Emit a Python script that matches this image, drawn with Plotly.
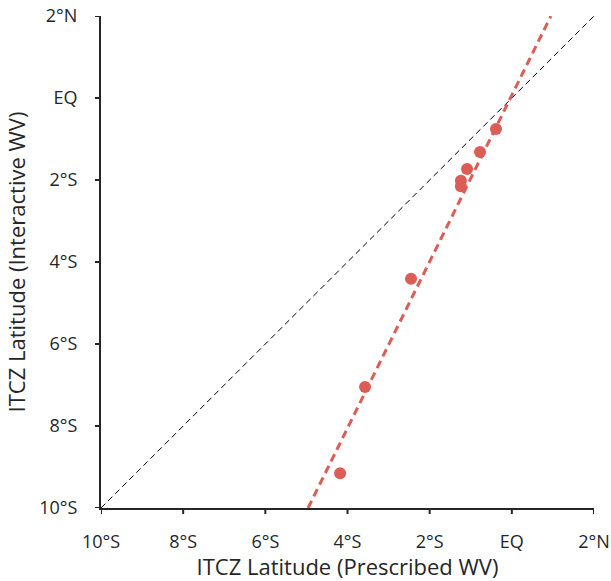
import numpy as np
import plotly.graph_objects as go

# Data
prescribed = [-0.385, -0.774, -1.09, -1.24, -1.24, -2.454, -3.573, -4.18]
interactive = [-0.756, -1.317, -1.73, -2.02, -2.15, -4.41, -7.05, -9.15]
fit_slope = 2.03
fit_intercept = 0.07
tick_vals = [-10, -8, -6, -4, -2, 0, 2]
tick_text = ["10°S", "8°S", "6°S", "4°S", "2°S", "EQ", "2°N"]
axis_range = [-10, 2]

red = "#dc5c56"
ink = "#262626"
font = "'Open Sans', Lato, sans-serif"

fig = go.Figure()
# 1:1 line
fig.add_trace(go.Scatter(x=axis_range, y=axis_range, mode="lines",
                         line=dict(color="black", width=1, dash="6px,4px"),
                         hoverinfo="skip", showlegend=False))
# fit line
fx = np.array([(axis_range[0] - fit_intercept) / fit_slope,
               (axis_range[1] - fit_intercept) / fit_slope])
fy = fit_slope * fx + fit_intercept
fig.add_trace(go.Scatter(x=fx, y=fy, mode="lines",
                         line=dict(color=red, width=3, dash="8px,5px"),
                         showlegend=False))
fig.add_trace(go.Scatter(x=prescribed, y=interactive, mode="markers",
                         marker=dict(color=red, size=12),
                         showlegend=False))

# axes: labels pushed out by transparent spacer ticks
label_axis = dict(range=axis_range, tickvals=tick_vals, ticktext=tick_text,
                  showgrid=False, zeroline=False, showline=True,
                  linecolor=ink, linewidth=2, ticks="outside",
                  tickwidth=1, tickcolor="rgba(0,0,0,0)",
                  automargin=False,
                  tickfont=dict(size=18, color=ink, family=font),
                  title_font=dict(size=22, color=ink, family=font))

fig.update_layout(
    width=611, height=581,
    margin=dict(l=101, r=17, t=16, b=73),
    plot_bgcolor="white", paper_bgcolor="white",
    font=dict(family=font),
    xaxis=dict(**label_axis, ticklen=16, title_text="ITCZ Latitude (Prescribed WV)",
               title_standoff=2),
    yaxis=dict(**label_axis, ticklen=18, title_text="ITCZ Latitude (Interactive WV)",
               title_standoff=8),
)

# visible short tick marks (6 px) at the tick values
for tv in tick_vals:
    fig.add_shape(type="line", xref="x", yref="paper", ysizemode="pixel",
                  yanchor=0, x0=tv, x1=tv, y0=0, y1=-6,
                  line=dict(color=ink, width=2), layer="above")
    fig.add_shape(type="line", xref="paper", yref="y", xsizemode="pixel",
                  xanchor=0, y0=tv, y1=tv, x0=0, x1=-6,
                  line=dict(color=ink, width=2), layer="above")

fig.write_html("out.html")
